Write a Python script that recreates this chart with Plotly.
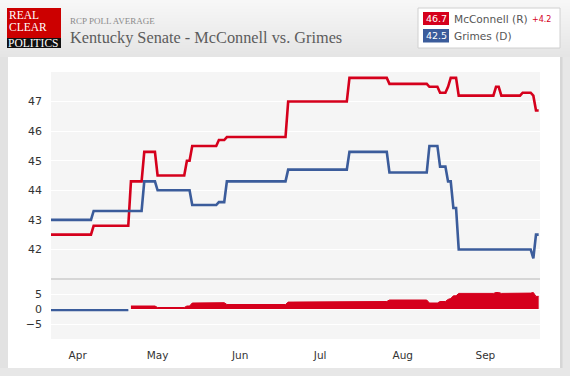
import numpy as np
import plotly.graph_objects as go

# ---------------- data ----------------
dates = [
    "2014-03-22", "2014-04-06", "2014-04-07", "2014-04-20", "2014-04-21",
    "2014-04-25", "2014-04-26", "2014-04-30", "2014-05-01", "2014-05-11",
    "2014-05-12", "2014-05-13", "2014-05-14", "2014-05-23", "2014-05-24",
    "2014-05-26", "2014-05-27", "2014-06-18", "2014-06-19", "2014-07-11",
    "2014-07-12", "2014-07-26", "2014-07-27", "2014-08-10", "2014-08-11",
    "2014-08-14", "2014-08-15", "2014-08-17", "2014-08-18", "2014-08-19",
    "2014-08-20", "2014-08-21", "2014-08-22", "2014-09-04", "2014-09-05",
    "2014-09-06", "2014-09-07", "2014-09-14", "2014-09-15", "2014-09-18",
    "2014-09-19", "2014-09-20", "2014-09-21",
]
mcconnell = [
    42.5, 42.5, 42.8, 42.8, 44.3,
    44.3, 45.3, 45.3, 44.5, 44.5,
    45.0, 45.0, 45.5, 45.5, 45.7,
    45.7, 45.8, 45.8, 47.0, 47.0,
    47.8, 47.8, 47.6, 47.6, 47.5,
    47.5, 47.3, 47.3, 47.5, 47.8,
    47.8, 47.8, 47.2, 47.2, 47.5,
    47.5, 47.2, 47.2, 47.3, 47.3,
    47.2, 46.7, 46.7,
]
grimes = [
    43.0, 43.0, 43.3, 43.3, 43.3,
    43.3, 44.3, 44.3, 44.0, 44.0,
    44.0, 44.0, 43.5, 43.5, 43.6,
    43.6, 44.3, 44.3, 44.7, 44.7,
    45.3, 45.3, 44.6, 44.6, 45.5,
    45.5, 44.8, 44.8, 44.3, 44.3,
    43.4, 43.4, 42.0, 42.0, 42.0,
    42.0, 42.0, 42.0, 42.0, 42.0,
    41.7, 42.5, 42.5,
]
month_ticks = ["2014-04-01", "2014-05-01", "2014-06-01", "2014-07-01", "2014-08-01", "2014-09-01"]
month_labels = ["Apr", "May", "Jun", "Jul", "Aug", "Sep"]
top_ticks = [42, 43, 44, 45, 46, 47]
spread_ticks = [-5, 0, 5]
candidates = ["McConnell (R)", "Grimes (D)"]

spread = np.round(np.array(mcconnell) - np.array(grimes), 1)
spread_pos = [float(s) if s > 0 else None for s in spread]
spread_neg = [float(s) if s < 0 else None for s in spread]

RED = "#d5001c"
BLUE = "#3b5c9b"

# ---------------- geometry helpers (pixel -> paper) ----------------
W, H = 570, 376
PL, PR, PT, PB = 51, 540, 72, 339


def px(x):
    return (x - PL) / (PR - PL)


def py(y):
    return (PB - y) / (PB - PT)


split = py(279)

fig = go.Figure()
fig.add_trace(go.Scatter(x=dates, y=mcconnell, mode="lines", line=dict(color=RED, width=2.6),
                         xaxis="x", yaxis="y", name=candidates[0], hoverinfo="skip"))
fig.add_trace(go.Scatter(x=dates, y=grimes, mode="lines", line=dict(color=BLUE, width=2.6),
                         xaxis="x", yaxis="y", name=candidates[1], hoverinfo="skip"))
fig.add_trace(go.Scatter(x=dates, y=spread_pos, mode="lines", fill="tozeroy", fillcolor=RED,
                         line=dict(color=RED, width=1), xaxis="x2", yaxis="y2", hoverinfo="skip"))
fig.add_trace(go.Scatter(x=dates, y=spread_neg, mode="lines", fill="tozeroy", fillcolor=BLUE,
                         line=dict(color=BLUE, width=1.5), xaxis="x2", yaxis="y2", hoverinfo="skip"))

shapes = []
# header gradient
n = 19
for i in range(n):
    c = int(247 - (247 - 229) * i / (n - 1))
    shapes.append(dict(type="rect", xref="paper", yref="paper", x0=px(0), x1=px(W),
                       y0=py(3 * i), y1=py(3 * i + 3), line=dict(width=0),
                       fillcolor=f"rgb({c},{c},{c})", layer="below"))
# frame strips
shapes.append(dict(type="rect", xref="paper", yref="paper", x0=px(0), x1=px(8), y0=py(57), y1=py(W),
                   line=dict(width=0), fillcolor="#e2e2e2"))
shapes.append(dict(type="rect", xref="paper", yref="paper", x0=px(560), x1=px(W), y0=py(57), y1=py(W),
                   line=dict(width=0), fillcolor="#e7e7e7"))
shapes.append(dict(type="rect", xref="paper", yref="paper", x0=px(560), x1=px(562.5), y0=py(57), y1=py(368),
                   line=dict(width=0), fillcolor="#d6d6d6"))
shapes.append(dict(type="rect", xref="paper", yref="paper", x0=px(0), x1=px(W), y0=py(368), y1=py(H + 5),
                   line=dict(width=0), fillcolor="#e7e7e7"))
# logo
shapes.append(dict(type="rect", xref="paper", yref="paper", x0=px(7), x1=px(61), y0=py(8), y1=py(38),
                   line=dict(width=0), fillcolor="#cc0000"))
shapes.append(dict(type="rect", xref="paper", yref="paper", x0=px(7), x1=px(61), y0=py(38), y1=py(48),
                   line=dict(width=0), fillcolor="#111111"))
# legend box
shapes.append(dict(type="rect", xref="paper", yref="paper", x0=px(418), x1=px(560), y0=py(8), y1=py(48),
                   line=dict(width=1, color="#d0d0d0"), fillcolor="white"))
shapes.append(dict(type="rect", xref="paper", yref="paper", x0=px(423), x1=px(449), y0=py(12), y1=py(25),
                   line=dict(width=0), fillcolor=RED))
shapes.append(dict(type="rect", xref="paper", yref="paper", x0=px(423), x1=px(449), y0=py(29), y1=py(42.5),
                   line=dict(width=0), fillcolor=BLUE))
# separator between panels
shapes.append(dict(type="line", xref="paper", yref="paper", x0=0, x1=1, y0=split, y1=split,
                   line=dict(width=2, color="#d6d6d6")))

sans = "DejaVu Sans"
serif = "Liberation Serif"
ann = []


def text(x, y, s, size, color, family, xanchor="left"):
    ann.append(dict(x=px(x), y=py(y), xref="paper", yref="paper", text=s, showarrow=False,
                    xanchor=xanchor, yanchor="middle", borderpad=0,
                    font=dict(size=size, color=color, family=family)))


text(7.5, 15, "REAL", 11.5, "white", serif)
text(7.5, 27.5, "CLEAR", 11.5, "white", serif)
text(7, 43.2, "POLITICS", 11.5, "white", serif)
text(68.5, 21, "RCP POLL AVERAGE", 9, "#8a8a8a", serif)
text(68.5, 37.5, "Kentucky Senate - McConnell vs. Grimes", 16.3, "#5c5c5c", serif)
text(436, 18.7, f"{mcconnell[-1]:.1f}", 9.5, "white", sans, "center")
text(436, 35.9, f"{grimes[-1]:.1f}", 9.5, "white", sans, "center")
text(453, 18.5, candidates[0], 10.6, "#555555", sans)
text(530.5, 19.5, f"+{spread[-1]:.1f}", 8, RED, sans)
text(453, 35.8, candidates[1], 10.6, "#555555", sans)

x_range = ["2014-03-22", "2014-09-21 12:00"]
tickfont = dict(family=sans, size=11, color="#333333")

fig.update_layout(
    width=W, height=H,
    margin=dict(l=PL, r=W - PR, t=PT, b=H - PB),
    paper_bgcolor="white",
    plot_bgcolor="#f5f5f5",
    showlegend=False,
    hovermode=False,
    shapes=shapes,
    annotations=ann,
    xaxis=dict(domain=[0, 1], anchor="y", range=x_range, type="date", showgrid=False,
               showticklabels=False, zeroline=False, showline=False, ticks="", matches="x2"),
    yaxis=dict(domain=[split, 1], anchor="x", range=[41, 48], tickvals=top_ticks,
               gridcolor="white", gridwidth=1, zeroline=False, showline=False, ticks="",
               tickfont=tickfont, ticklabelstandoff=8),
    xaxis2=dict(domain=[0, 1], anchor="y2", range=x_range, type="date", showgrid=False,
                tickvals=month_ticks, ticktext=month_labels, zeroline=False, showline=False,
                ticks="", tickfont=dict(family=sans, size=10.5, color="#333333"), ticklabelstandoff=8),
    yaxis2=dict(domain=[0, split], anchor="x2", range=[-10, 10], tickvals=spread_ticks,
                gridcolor="white", gridwidth=1, zeroline=False, showline=False, ticks="",
                tickfont=tickfont, ticklabelstandoff=8),
)

fig.write_html(
    "out.html",
    config={"displayModeBar": False, "staticPlot": True},
    post_script="document.body.style.margin='0';document.body.style.overflow='hidden';",
)
